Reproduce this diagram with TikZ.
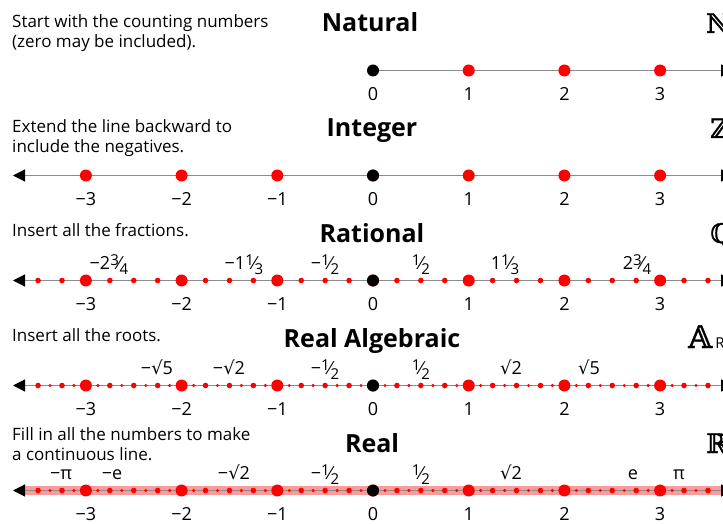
\documentclass[tikz,border=0pt]{standalone}
\usepackage{fontspec}
\setmainfont{Open Sans}
\newfontfamily\bbfont{DejaVu Serif}[FakeBold=1.2]
\newfontfamily\rootfont{DejaVu Sans}
\usetikzlibrary{arrows.meta}
\definecolor{numred}{HTML}{FF0000}
\definecolor{linegray}{HTML}{8C8C8C}
\definecolor{bandred}{HTML}{FF9A9A}
\newcommand{\fr}[2]{\raisebox{.24em}{\fontsize{15}{15}\selectfont #1}\kern-.04em⁄\kern-.04em\raisebox{-.26em}{\fontsize{15}{15}\selectfont #2}}
\newcommand{\rt}{{\rootfont √}}

\begin{document}
\begin{tikzpicture}[x=1pt, y=-1pt,
  rowtitle/.style={font=\fontsize{25}{25}\selectfont\bfseries, anchor=base, inner sep=0pt},
  note/.style={font=\fontsize{17}{20}\selectfont, align=left, anchor=base west, inner sep=0pt},
  num/.style={font=\fontsize{18}{18}\selectfont, anchor=base, inner sep=0pt},
  setname/.style={font=\bbfont\fontsize{27}{27}\selectfont, anchor=base west, inner sep=0pt},
  axis/.style={draw=linegray, line width=1.2pt},
  axisarrow/.style={-{Triangle[length=12pt, width=12pt, color=black]}},
  axisarrows/.style={{Triangle[length=12pt, width=12pt, color=black]}-{Triangle[length=12pt, width=12pt, color=black]}},
  band/.style={draw=bandred, line width=9.5pt, shorten <=12pt}
]
\useasboundingbox (0,0) rectangle (723,524);
\clip (0,0) rectangle (723,524);

% --- natural numbers
\node[rowtitle] (natT) at (370,32) {Natural};
\node[note] (natD) at (12,47.5) {Start with the counting numbers\\(zero may be included).};
\node[setname] (natS) at (706,33) {ℕ};
\coordinate (natL) at (373,70.5);
\coordinate (natR) at (733,70.5);
\draw[axis, axisarrow] (natL) -- (natR);
\begin{scope}[shift={(373,70.5)}, x=95.7pt]
  \foreach \v in {1,2,3} \fill[numred] (\v,0) circle[radius=6pt];
  \fill (0,0) circle[radius=6pt];
  \foreach \v in {0,...,3} \node[num] (nat\v) at (\v,30) {\v};
\end{scope}

% --- integers
\node[rowtitle] (intT) at (372,137) {Integer};
\node[note] (intD) at (12,152.7) {Extend the line backward to\\include the negatives.};
\node[setname] (intS) at (710,138) {ℤ};
\coordinate (intL) at (13,175.5);
\coordinate (intR) at (733,175.5);
\draw[axis, axisarrows] (intL) -- (intR);
\begin{scope}[shift={(373,175.5)}, x=95.7pt]
  \foreach \v in {-3,...,3} \fill[numred] (\v,0) circle[radius=6pt];
  \fill (0,0) circle[radius=6pt];
  \foreach \v/\t [count=\i] in {-3/−3,-2/−2,-1/−1,0/0,1/1,2/2,3/3}
    \node[num] (int\i) at (\v,30) {\t};
\end{scope}

% --- rationals
\node[rowtitle] (ratT) at (372,242) {Rational};
\node[note] (ratD) at (12,236) {Insert all the fractions.};
\node[setname] (ratS) at (710,243) {ℚ};
\coordinate (ratL) at (13,280.5);
\coordinate (ratR) at (733,280.5);
\draw[axis, axisarrows] (ratL) -- (ratR);
\begin{scope}[shift={(373,280.5)}, x=95.7pt]
  \foreach \v in {-3.5,-3.25,...,3.5} \fill[numred] (\v,0) circle[radius=2.8pt];
  \foreach \v in {-3,...,3} \fill[numred] (\v,0) circle[radius=6pt];
  \fill (0,0) circle[radius=6pt];
  \foreach \v/\t [count=\i] in {-3/−3,-2/−2,-1/−1,0/0,1/1,2/2,3/3}
    \node[num] (rat\i) at (\v,30) {\t};
\end{scope}
\foreach \x/\t [count=\i] in {109/{−2\fr34},244/{−1\fr13},325/{−\fr12},421/{\fr12},505/{1\fr13},637/{2\fr34}}
  \node[num] (ratV\i) at (\x,269.5) {\t};

% --- real algebraic
\node[rowtitle] (algT) at (372,347) {Real Algebraic};
\node[note] (algD) at (12,341.7) {Insert all the roots.};
\node[setname] (algS) at (688,348) {\fontsize{31}{31}\selectfont 𝔸\kern3pt{\fontsize{15}{15}\selectfont\rmfamily R}};
\coordinate (algL) at (13,385.5);
\coordinate (algR) at (733,385.5);
\draw[axis, axisarrows] (algL) -- (algR);
\begin{scope}[shift={(373,385.5)}, x=95.7pt]
  \foreach \v in {-3.375,-3.125,...,3.375} \fill[numred] (\v,0) circle[radius=1.7pt];
  \foreach \v in {-3.5,-3.25,...,3.5} \fill[numred] (\v,0) circle[radius=2.8pt];
  \foreach \v in {-3,...,3} \fill[numred] (\v,0) circle[radius=6pt];
  \fill (0,0) circle[radius=6pt];
  \foreach \v/\t [count=\i] in {-3/−3,-2/−2,-1/−1,0/0,1/1,2/2,3/3}
    \node[num] (alg\i) at (\v,30) {\t};
\end{scope}
\foreach \x/\t [count=\i] in {157/{−\rt5},229/{−\rt2},325/{−\fr12},421/{\fr12},511/{\rt2},589/{\rt5}}
  \node[num] (algV\i) at (\x,374.5) {\t};

% --- reals
\node[rowtitle] (realT) at (372,452) {Real};
\node[note] (realD) at (12,460.7) {Fill in all the numbers to make\\a continuous line.};
\node[setname] (realS) at (706,453) {ℝ};
\coordinate (realL) at (13,490.5);
\coordinate (realR) at (733,490.5);
\draw[band] (realL) -- (realR);
\draw[axis, axisarrows] (realL) -- (realR);
\begin{scope}[shift={(373,490.5)}, x=95.7pt]
  \foreach \v in {-3.375,-3.125,...,3.375} \fill[numred] (\v,0) circle[radius=1.7pt];
  \foreach \v in {-3.5,-3.25,...,3.5} \fill[numred] (\v,0) circle[radius=2.8pt];
  \foreach \v in {-3,...,3} \fill[numred] (\v,0) circle[radius=6pt];
  \fill (0,0) circle[radius=6pt];
  \foreach \v/\t [count=\i] in {-3/−3,-2/−2,-1/−1,0/0,1/1,2/2,3/3}
    \node[num] (real\i) at (\v,30) {\t};
\end{scope}
\foreach \x/\t [count=\i] in {61/−π,112/−e,234/{−\rt2},325/{−\fr12},421/{\fr12},511/{\rt2},633/e,679/π}
  \node[num] (realV\i) at (\x,479.5) {\t};
\end{tikzpicture}
\end{document}
